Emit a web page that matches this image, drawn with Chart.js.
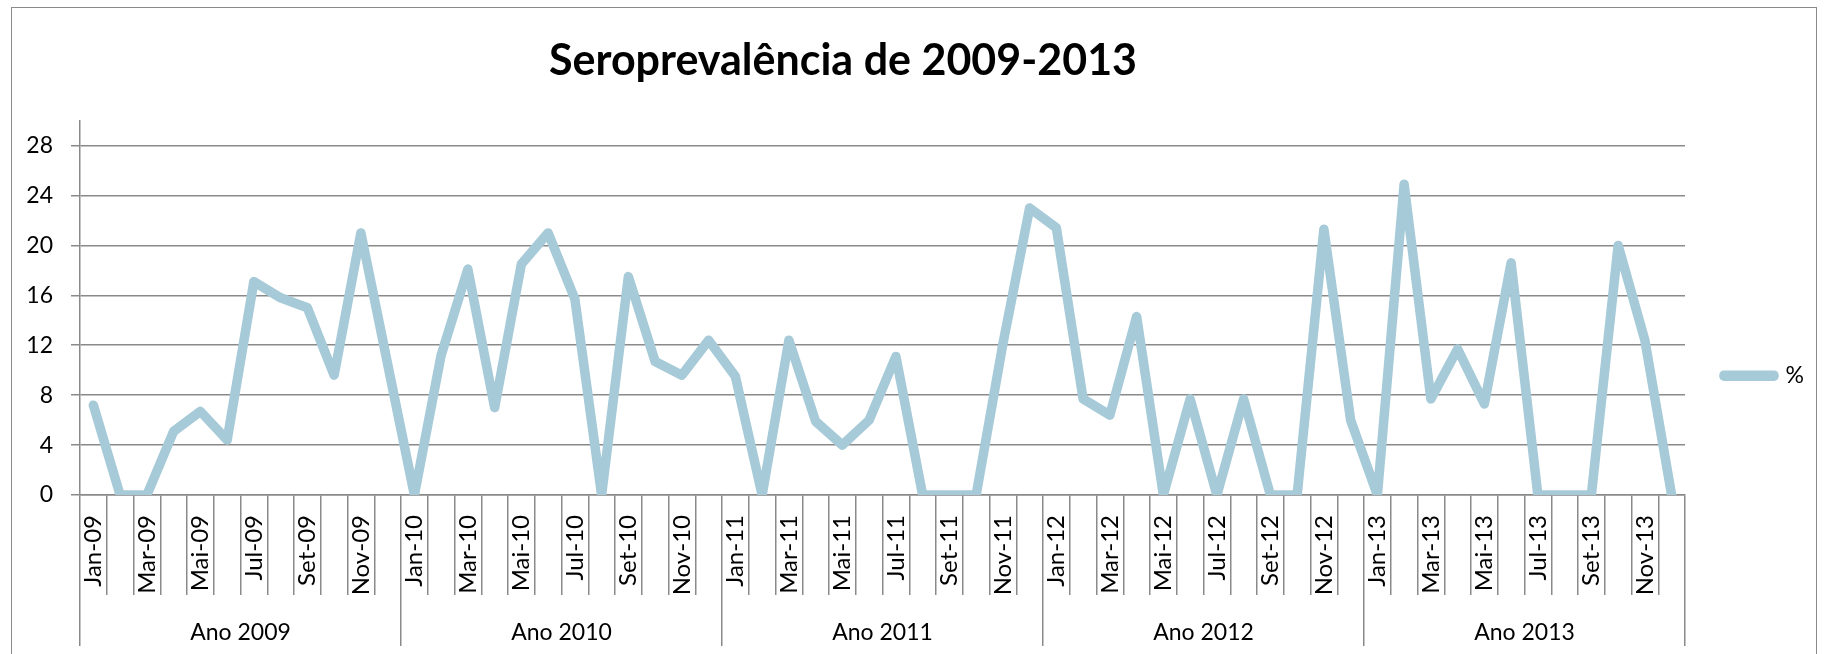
<!DOCTYPE html>
<html><head><meta charset="utf-8">
<script src="https://cdn.jsdelivr.net/npm/chart.js@4.4.1/dist/chart.umd.min.js"></script>
<style>
html,body{margin:0;padding:0;background:#fff;overflow:hidden;width:1825px;height:654px;}
#frame{position:absolute;left:11px;top:7px;width:1806px;height:700px;border:1.5px solid #8a8a8a;box-sizing:border-box;}
canvas{position:absolute;left:0;top:0;}
</style></head><body>
<div id="frame"></div>
<canvas id="c" width="1825" height="654"></canvas>
<script>
const TITLE = 'Seroprevalência de 2009-2013';
const SERIES_LABEL = '%';
const YEARS = ['Ano 2009', 'Ano 2010', 'Ano 2011', 'Ano 2012', 'Ano 2013'];
const MONTHS = [
  'Jan-09','Fev-09','Mar-09','Abr-09','Mai-09','Jun-09','Jul-09','Ago-09','Set-09','Out-09','Nov-09','Dez-09',
  'Jan-10','Fev-10','Mar-10','Abr-10','Mai-10','Jun-10','Jul-10','Ago-10','Set-10','Out-10','Nov-10','Dez-10',
  'Jan-11','Fev-11','Mar-11','Abr-11','Mai-11','Jun-11','Jul-11','Ago-11','Set-11','Out-11','Nov-11','Dez-11',
  'Jan-12','Fev-12','Mar-12','Abr-12','Mai-12','Jun-12','Jul-12','Ago-12','Set-12','Out-12','Nov-12','Dez-12',
  'Jan-13','Fev-13','Mar-13','Abr-13','Mai-13','Jun-13','Jul-13','Ago-13','Set-13','Out-13','Nov-13','Dez-13'
];
const VALUES_2009 = [7.2, 0, 0, 5.1, 6.7, 4.4, 17.1, 15.8, 15.0, 9.6, 21.0, 10.5];
const VALUES_2010 = [0, 11.2, 18.1, 7.0, 18.5, 21.0, 15.7, 0, 17.5, 10.7, 9.6, 12.4];
const VALUES_2011 = [9.5, 0, 12.4, 5.9, 4.0, 6.0, 11.1, 0, 0, 0, 12.1, 23.0];
const VALUES_2012 = [21.4, 7.7, 6.4, 14.3, 0, 7.7, 0, 7.7, 0, 0, 21.3, 6.0];
const VALUES_2013 = [0, 24.9, 7.7, 11.7, 7.3, 18.6, 0, 0, 0, 20.0, 12.4, 0];
const Y_TICKS = [0, 4, 8, 12, 16, 20, 24, 28];
const Y_MAX = 30;

const VALUES = [].concat(VALUES_2009, VALUES_2010, VALUES_2011, VALUES_2012, VALUES_2013);
const FONT = 'Lato, "Open Sans", sans-serif';
const GRID = '#8a8a8a';
const LINE = '#A6CAD7';
const AXIS_FONT = { family: FONT, size: 23 };
const SHIFT = 124; // extends left box so the title centres like the original

new Chart(document.getElementById('c'), {
  type: 'line',
  data: {
    labels: MONTHS,
    datasets: [{
      label: SERIES_LABEL, data: VALUES,
      borderColor: LINE, backgroundColor: LINE, borderWidth: 9.5,
      pointRadius: 0, pointHoverRadius: 0, tension: 0,
      borderJoinStyle: 'round', borderCapStyle: 'round',
      xAxisID: 'x', yAxisID: 'y'
    }]
  },
  options: {
    responsive: false, animation: false, devicePixelRatio: 1,
    events: [],
    layout: { padding: { left: -SHIFT, right: 15, top: 0, bottom: 8 } },
    plugins: {
      title: { display: true, text: TITLE, color: '#000',
        font: { family: FONT, size: 43, weight: 'bold' }, padding: { top: 35, bottom: 34 } },
      legend: { position: 'right', fullSize: false, maxWidth: 125, align: 'start',
        title: { display: true, text: '', font: { family: FONT, size: 23 }, padding: { top: 177, bottom: 0 } },
        labels: { boxWidth: 50, boxHeight: 1, padding: 39, color: '#000', font: AXIS_FONT } },
      tooltip: { enabled: false }
    },
    scales: {
      x: { type: 'category', position: 'bottom', weight: 0, offset: true,
        grid: { offset: true, drawOnChartArea: false, drawTicks: true, tickLength: 100, color: GRID, lineWidth: 1.5 },
        border: { display: true, color: GRID, width: 1.5 },
        ticks: { autoSkip: false, minRotation: 90, maxRotation: 90, padding: -80, color: '#000', font: { family: FONT, size: 24 },
          callback: (v, i) => (i % 2 === 0 ? MONTHS[i] : '') },
        afterFit: s => { s.height = 100; } },
      x2: { type: 'category', labels: YEARS, position: 'bottom', weight: 1, offset: true,
        grid: { offset: true, drawOnChartArea: false, drawTicks: true, tickLength: 51, color: GRID, lineWidth: 1.5 },
        border: { display: false },
        ticks: { autoSkip: false, maxRotation: 0, minRotation: 0, padding: -27, color: '#000', font: AXIS_FONT },
        afterFit: s => { s.height = 51; } },
      y: { type: 'linear', position: 'left', min: 0, max: Y_MAX,
        grid: { color: GRID, lineWidth: 1.5, tickLength: 9 },
        border: { display: true, color: GRID, width: 1.5 },
        ticks: { padding: 18, color: '#000', font: AXIS_FONT },
        afterBuildTicks: s => { s.ticks = Y_TICKS.map(v => ({ value: v })); },
        afterFit: s => { s.width = 80 + SHIFT; } }
    }
  }
});
</script>
</body></html>
